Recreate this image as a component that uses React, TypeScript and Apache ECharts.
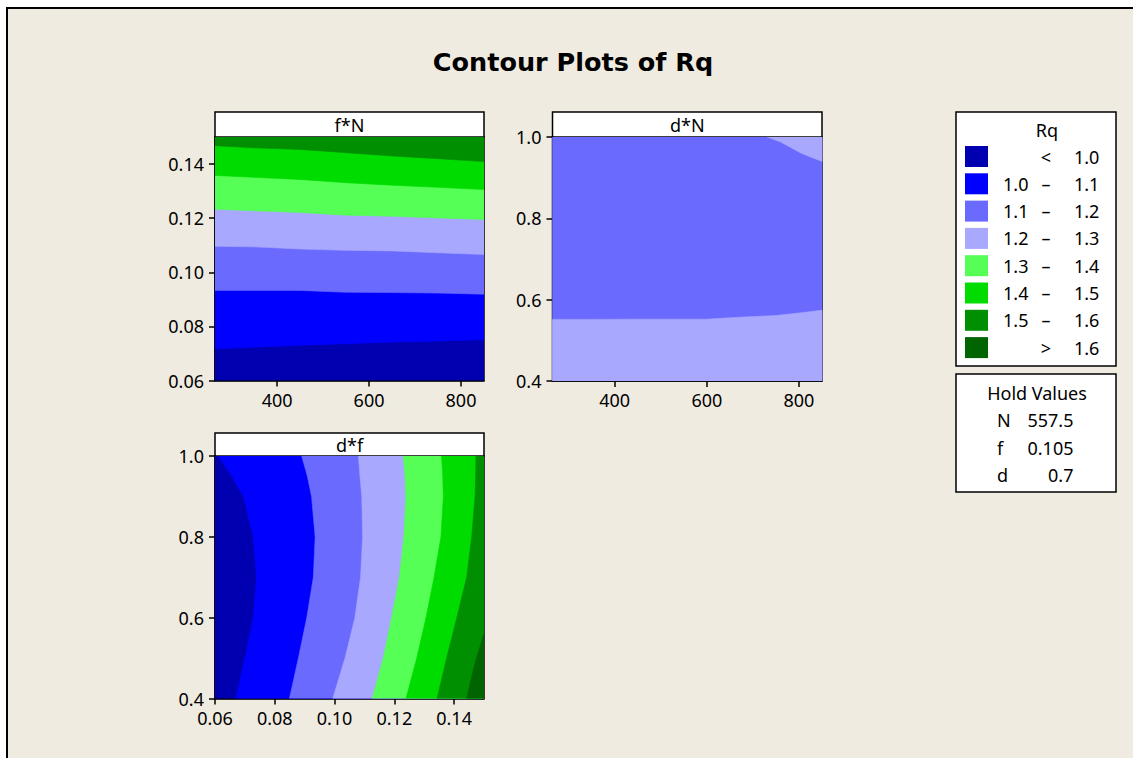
import React, { useEffect, useRef } from "react";
import * as echarts from "echarts";

// ---------- data ----------
const LEVEL_COLORS = ["#0000B0", "#0000FF", "#6A6AFF", "#A8A8FF", "#55FF55", "#00DC00", "#008F00", "#006400"];
const LEVEL_LOW = ["", "1.0", "1.1", "1.2", "1.3", "1.4", "1.5", ""];
const LEVEL_SEP = ["<", "–", "–", "–", "–", "–", "–", ">"];
const LEVEL_HIGH = ["1.0", "1.1", "1.2", "1.3", "1.4", "1.5", "1.6", "1.6"];

const HOLD_NAMES = ["N", "f", "d"];
const HOLD_VALUES = ["557.5", "0.105", "0.7"];

const PANEL_TITLES = ["f*N", "d*N", "d*f"];

const N_TICKS = [400, 600, 800];
const F_TICKS = [0.06, 0.08, 0.1, 0.12, 0.14];
const D_TICKS = [0.4, 0.6, 0.8, 1.0];
const N_RANGE = [265, 850];
const F_RANGE = [0.06, 0.15];
const D_RANGE = [0.4, 1.0];

// Panel f*N : contour f-values (levels 1.0 .. 1.5) at each N
const FN_N = [265, 350, 450, 550, 650, 750, 850];
const FN_B10 = [0.0717, 0.0723, 0.073, 0.0736, 0.0742, 0.0746, 0.0751];
const FN_B11 = [0.0933, 0.0933, 0.0933, 0.0926, 0.0925, 0.0923, 0.0919];
const FN_B12 = [0.1096, 0.1094, 0.1086, 0.1081, 0.1079, 0.1072, 0.1066];
const FN_B13 = [0.1233, 0.1227, 0.1221, 0.1211, 0.1207, 0.1201, 0.1195];
const FN_B14 = [0.1358, 0.1351, 0.1343, 0.1331, 0.1322, 0.1314, 0.1306];
const FN_B15 = [0.1468, 0.146, 0.1454, 0.1442, 0.143, 0.142, 0.1409];

// Panel d*N : contour 1.2 (lower) and the upper-right 1.2 contour
const DN_N = [265, 350, 450, 550, 600, 650, 750, 800, 850];
const DN_B12 = [0.5515, 0.5515, 0.552, 0.552, 0.552, 0.5555, 0.561, 0.567, 0.574];
const DN_CORNER_N = [731, 760, 781, 803, 825, 850];
const DN_CORNER_D = [1.0, 0.988, 0.975, 0.961, 0.951, 0.94];

// Panel d*f : contour f-values (levels 1.0 .. 1.5) at each d
const DF_D = [1.0, 0.95, 0.9, 0.8, 0.7, 0.6, 0.5, 0.4];
const DF_B10 = [0.0611, 0.0656, 0.0695, 0.0728, 0.0739, 0.0728, 0.07, 0.067];
const DF_B11 = [0.089, 0.0909, 0.0923, 0.0935, 0.0929, 0.0907, 0.0879, 0.0849];
const DF_B12 = [0.108, 0.1085, 0.1091, 0.1094, 0.1087, 0.1068, 0.1035, 0.0994];
const DF_B13 = [0.123, 0.1236, 0.1239, 0.1232, 0.1217, 0.1191, 0.1163, 0.1126];
const DF_B14 = [0.1358, 0.1362, 0.1364, 0.1356, 0.1333, 0.1306, 0.1275, 0.1239];
const DF_B15 = [0.1473, 0.1472, 0.147, 0.1459, 0.1442, 0.1409, 0.1375, 0.1343];
const DF_B16_D = [0.56, 0.5, 0.47, 0.4];
const DF_B16_F = [0.15, 0.1475, 0.1464, 0.1442];

// ---------- build ----------
type Poly = { color: number; pts: number[][] };

function panel1Polys(): Poly[] {
  const [n0, n1] = N_RANGE;
  const [f0, f1] = F_RANGE;
  const polys: Poly[] = [{ color: 0, pts: [[n0, f0], [n1, f0], [n1, f1], [n0, f1]] }];
  [FN_B10, FN_B11, FN_B12, FN_B13, FN_B14, FN_B15].forEach((b, k) => {
    const pts = FN_N.map((n, i) => [n, b[i]]);
    pts.push([n1, f1], [n0, f1]);
    polys.push({ color: k + 1, pts });
  });
  return polys;
}

function panel2Polys(): Poly[] {
  const [n0, n1] = N_RANGE;
  const [d0, d1] = D_RANGE;
  const polys: Poly[] = [{ color: 2, pts: [[n0, d0], [n1, d0], [n1, d1], [n0, d1]] }];
  const low = DN_N.map((n, i) => [n, DN_B12[i]]).reverse();
  polys.push({ color: 3, pts: [[n0, d0], [n1, d0], ...low] });
  const corner = DN_CORNER_N.map((n, i) => [n, DN_CORNER_D[i]]);
  corner.push([n1, d1]);
  polys.push({ color: 3, pts: corner });
  return polys;
}

function panel3Polys(): Poly[] {
  const [f0, f1] = F_RANGE;
  const [d0, d1] = D_RANGE;
  const polys: Poly[] = [{ color: 0, pts: [[f0, d0], [f1, d0], [f1, d1], [f0, d1]] }];
  [DF_B10, DF_B11, DF_B12, DF_B13, DF_B14, DF_B15].forEach((b, k) => {
    const pts = DF_D.map((d, i) => [b[i], d]);
    pts.push([f1, d0], [f1, d1]);
    polys.push({ color: k + 1, pts });
  });
  const corner = DF_B16_D.map((d, i) => [DF_B16_F[i], d]);
  corner.push([f1, d0]);
  polys.push({ color: 7, pts: corner });
  return polys;
}

const FONT = "'Noto Sans', sans-serif";
const BG = "#EFEBE0";

const GRIDS = [
  { left: 215, top: 137, width: 269, height: 243.5 },
  { left: 552.5, top: 137, width: 269.5, height: 244 },
  { left: 215, top: 456, width: 269, height: 242.5 },
];
const HEADERS = [
  { x: 215, y: 112, w: 269, h: 25 },
  { x: 552.5, y: 112, w: 269.5, h: 25 },
  { x: 215, y: 433, w: 269, h: 23 },
];

function makeAxis(idx: number, range: number[], ticks: number[], digits: number, isX: boolean) {
  return {
    type: "value",
    gridIndex: idx,
    min: range[0],
    max: range[1],
    position: isX ? "bottom" : "left",
    splitLine: { show: false },
    axisLine: { show: true, onZero: false, lineStyle: { color: "#000", width: 1.5 } },
    axisTick: { show: true, length: 6, customValues: ticks, lineStyle: { color: "#000", width: 1.5 } },
    axisLabel: {
      show: true,
      customValues: ticks,
      margin: isX ? 10 : 11,
      color: "#000",
      fontSize: 18,
      fontFamily: FONT,
      formatter: (v: number) => v.toFixed(digits),
    },
  };
}

function polySeries(idx: number, polys: Poly[]) {
  return {
    type: "custom",
    xAxisIndex: idx,
    yAxisIndex: idx,
    clip: true,
    silent: true,
    data: polys.map((p) => [p.pts[0][0], p.pts[0][1], p.color]),
    renderItem: (params: any, api: any) => {
      const p = polys[params.dataIndex];
      const c = LEVEL_COLORS[p.color];
      return {
        type: "polygon",
        shape: { points: p.pts.map((pt) => api.coord(pt)) },
        style: { fill: c, stroke: c, lineWidth: 0.6 },
      };
    },
  };
}

function buildOption() {
  const graphics: any[] = [];
  graphics.push({
    type: "rect",
    z: -10,
    shape: { x: 7, y: 8, width: 1200, height: 800 },
    style: { fill: BG, stroke: "#000", lineWidth: 2 },
  });
  graphics.push({
    type: "text",
    x: 573,
    y: 62,
    style: {
      text: "Contour Plots of Rq",
      fontSize: 25.5,
      fontWeight: "bold",
      fontFamily: "'DejaVu Sans', sans-serif",
      fill: "#000",
      align: "center",
      verticalAlign: "middle",
    },
  });
  HEADERS.forEach((h, i) => {
    graphics.push({
      type: "rect",
      shape: { x: h.x, y: h.y, width: h.w, height: h.h },
      style: { fill: "#fff", stroke: "#000", lineWidth: 1.5 },
    });
    graphics.push({
      type: "text",
      x: h.x + h.w / 2,
      y: h.y + h.h / 2,
      style: { text: PANEL_TITLES[i], fontSize: 18, fontFamily: FONT, fill: "#000", align: "center", verticalAlign: "middle" },
    });
  });

  // legend box
  graphics.push({
    type: "rect",
    shape: { x: 956, y: 112, width: 160, height: 254 },
    style: { fill: "#fff", stroke: "#000", lineWidth: 1.5 },
  });
  graphics.push({
    type: "text",
    x: 1047,
    y: 130,
    style: { text: "Rq", fontSize: 18, fontFamily: FONT, fill: "#000", align: "center", verticalAlign: "middle" },
  });
  LEVEL_COLORS.forEach((c, i) => {
    const top = 146 + i * 27.3;
    const cy = top + 10.5;
    graphics.push({ type: "rect", shape: { x: 965, y: top, width: 23, height: 21 }, style: { fill: c } });
    if (LEVEL_LOW[i]) {
      graphics.push({
        type: "text", x: 1028.5, y: cy,
        style: { text: LEVEL_LOW[i], fontSize: 18, fontFamily: FONT, fill: "#000", align: "right", verticalAlign: "middle" },
      });
    }
    graphics.push({
      type: "text", x: 1046, y: cy,
      style: { text: LEVEL_SEP[i], fontSize: 18, fontFamily: FONT, fill: "#000", align: "center", verticalAlign: "middle" },
    });
    graphics.push({
      type: "text", x: 1074, y: cy,
      style: { text: LEVEL_HIGH[i], fontSize: 18, fontFamily: FONT, fill: "#000", align: "left", verticalAlign: "middle" },
    });
  });

  // hold values box
  graphics.push({
    type: "rect",
    shape: { x: 956, y: 374, width: 160, height: 118 },
    style: { fill: "#fff", stroke: "#000", lineWidth: 1.5 },
  });
  graphics.push({
    type: "text", x: 1037, y: 393,
    style: { text: "Hold Values", fontSize: 18, fontFamily: FONT, fill: "#000", align: "center", verticalAlign: "middle" },
  });
  HOLD_NAMES.forEach((n, i) => {
    const cy = 420 + i * 27.5;
    graphics.push({
      type: "text", x: 997, y: cy,
      style: { text: n, fontSize: 18, fontFamily: FONT, fill: "#000", align: "left", verticalAlign: "middle" },
    });
    graphics.push({
      type: "text", x: 1073.5, y: cy,
      style: { text: HOLD_VALUES[i], fontSize: 18, fontFamily: FONT, fill: "#000", align: "right", verticalAlign: "middle" },
    });
  });

  return {
    animation: false,
    backgroundColor: "#fff",
    grid: GRIDS.map((g) => ({
      ...g,
      show: true,
      backgroundColor: "transparent",
      borderColor: "#000",
      borderWidth: 1.5,
      containLabel: false,
    })),
    xAxis: [
      makeAxis(0, N_RANGE, N_TICKS, 0, true),
      makeAxis(1, N_RANGE, N_TICKS, 0, true),
      makeAxis(2, F_RANGE, F_TICKS, 2, true),
    ],
    yAxis: [
      makeAxis(0, F_RANGE, F_TICKS, 2, false),
      makeAxis(1, D_RANGE, D_TICKS, 1, false),
      makeAxis(2, D_RANGE, D_TICKS, 1, false),
    ],
    series: [polySeries(0, panel1Polys()), polySeries(1, panel2Polys()), polySeries(2, panel3Polys())],
    graphic: graphics,
  };
}

export default function App() {
  const ref = useRef<HTMLDivElement>(null);
  useEffect(() => {
    if (!ref.current) return;
    const chart = echarts.init(ref.current, undefined, { renderer: "svg" });
    chart.setOption(buildOption() as any);
    return () => chart.dispose();
  }, []);
  return (
    <div
      ref={ref}
      style={{ position: "absolute", left: 0, top: 0, width: 1133, height: 758 }}
    />
  );
}
